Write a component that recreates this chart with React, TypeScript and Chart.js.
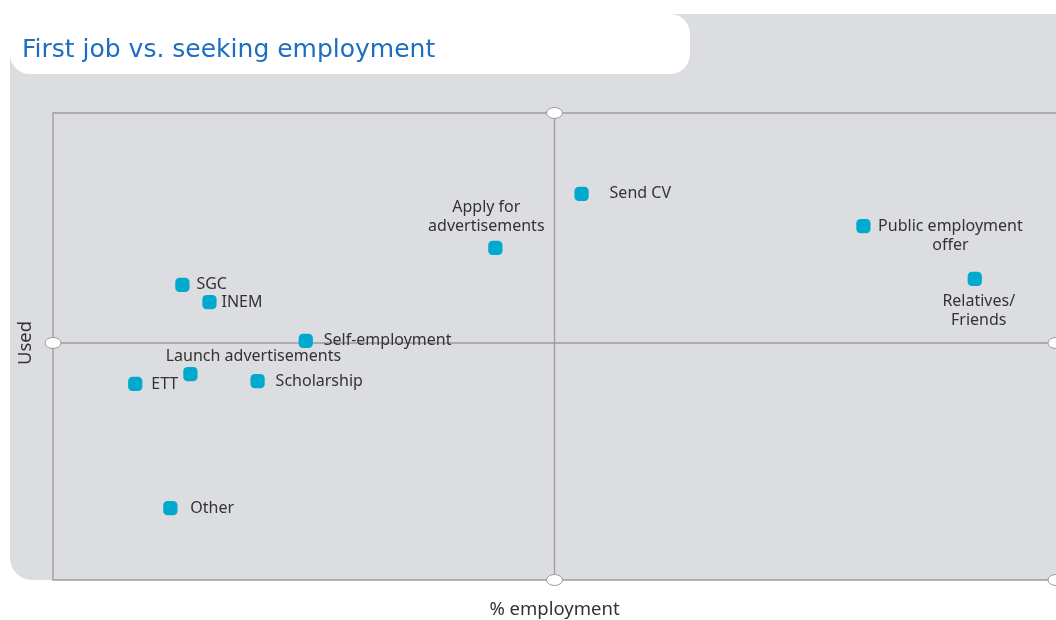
import React, { useEffect, useRef } from "react";
import { Chart, registerables } from "chart.js";

Chart.register(...registerables);

const TITLE = "First job vs. seeking employment";
const X_AXIS_LABEL = "% employment";
const Y_AXIS_LABEL = "Used";

const categories = [
  "Send CV",
  "Apply for\nadvertisements",
  "Public employment\noffer",
  "Relatives/\nFriends",
  "SGC",
  "INEM",
  "Self-employment",
  "Launch advertisements",
  "ETT",
  "Scholarship",
  "Other",
];
const employmentValues = [52.7, 44.1, 80.8, 91.9, 12.9, 15.6, 25.2, 13.7, 8.2, 20.4, 11.7];
const usedValues = [82.7, 71.1, 75.8, 64.5, 63.2, 59.5, 51.2, 44.1, 42.0, 42.6, 15.4];

const X_MIN = 0;
const X_MAX = 100;
const Y_MIN = 0;
const Y_MAX = 100;
const X_MID = 50;
const Y_MID = 50.75;

// label placement (pixels relative to the marker), kept apart from data
const labelPlacement: Record<string, { dx: number; dy: number; align: "left" | "center" }> = {
  "Send CV": { dx: 28, dy: 0, align: "left" },
  "Apply for\nadvertisements": { dx: -9, dy: -41, align: "center" },
  "Public employment\noffer": { dx: 87, dy: 0, align: "center" },
  "Relatives/\nFriends": { dx: 4, dy: 23, align: "center" },
  SGC: { dx: 14, dy: 0, align: "left" },
  INEM: { dx: 12, dy: 0, align: "left" },
  "Self-employment": { dx: 18, dy: 0, align: "left" },
  "Launch advertisements": { dx: 63, dy: -18, align: "center" },
  ETT: { dx: 16, dy: 1, align: "left" },
  Scholarship: { dx: 18, dy: 0, align: "left" },
  Other: { dx: 20, dy: 0, align: "left" },
};

const FONT = '"Noto Sans", sans-serif';

function roundRect(ctx: CanvasRenderingContext2D, x: number, y: number, w: number, h: number, r: number) {
  ctx.beginPath();
  ctx.moveTo(x + r, y);
  ctx.lineTo(x + w - r, y);
  ctx.arcTo(x + w, y, x + w, y + r, r);
  ctx.lineTo(x + w, y + h - r);
  ctx.arcTo(x + w, y + h, x + w - r, y + h, r);
  ctx.lineTo(x + r, y + h);
  ctx.arcTo(x, y + h, x, y + h - r, r);
  ctx.lineTo(x, y + r);
  ctx.arcTo(x, y, x + r, y, r);
  ctx.closePath();
}

function oval(ctx: CanvasRenderingContext2D, x: number, y: number) {
  ctx.save();
  ctx.beginPath();
  ctx.ellipse(x, y, 8, 5.5, 0, 0, Math.PI * 2);
  ctx.fillStyle = "#ffffff";
  ctx.fill();
  ctx.lineWidth = 1;
  ctx.strokeStyle = "#9a9a9a";
  ctx.stroke();
  ctx.restore();
}

const backgroundPlugin = {
  id: "quadBackground",
  beforeDraw(chart: any) {
    const ctx: CanvasRenderingContext2D = chart.ctx;
    const { left, top, right, bottom } = chart.chartArea;
    const xs = chart.scales.x;
    const ys = chart.scales.y;
    ctx.save();
    // grey panel
    ctx.fillStyle = "#dcdde0";
    roundRect(ctx, 10, 14, 1100, bottom - 14, 22);
    ctx.fill();
    // white title box
    ctx.fillStyle = "#ffffff";
    roundRect(ctx, 10, 14, 680, 60, 20);
    ctx.fill();
    // title
    ctx.fillStyle = "#1d6ec0";
    ctx.font = '25px "DejaVu Sans", sans-serif';
    ctx.textBaseline = "middle";
    ctx.textAlign = "left";
    ctx.fillText(TITLE, 22, 50);

    // frame and cross lines
    ctx.strokeStyle = "#9c9c9c";
    ctx.lineWidth = 1.3;
    ctx.beginPath();
    ctx.moveTo(right + 5, top);
    ctx.lineTo(left, top);
    ctx.lineTo(left, bottom);
    ctx.lineTo(right + 5, bottom);
    const cx = xs.getPixelForValue(X_MID);
    const cy = ys.getPixelForValue(Y_MID);
    ctx.moveTo(cx, top);
    ctx.lineTo(cx, bottom);
    ctx.moveTo(left, cy);
    ctx.lineTo(right + 5, cy);
    ctx.stroke();

    oval(ctx, cx, top);
    oval(ctx, cx, bottom);
    oval(ctx, left, cy);
    oval(ctx, right, cy);
    oval(ctx, right, bottom);

    // axis titles
    ctx.fillStyle = "#333333";
    ctx.font = `18.5px ${FONT}`;
    ctx.textAlign = "center";
    ctx.textBaseline = "middle";
    ctx.fillText(X_AXIS_LABEL, cx, 610);
    ctx.save();
    ctx.translate(26, cy);
    ctx.rotate(-Math.PI / 2);
    ctx.fillText(Y_AXIS_LABEL, 0, 0);
    ctx.restore();
    ctx.restore();
  },
};

const labelPlugin = {
  id: "pointLabels",
  afterDatasetsDraw(chart: any) {
    const ctx: CanvasRenderingContext2D = chart.ctx;
    const meta = chart.getDatasetMeta(0);
    ctx.save();
    ctx.font = `16px ${FONT}`;
    ctx.fillStyle = "#333333";
    ctx.textBaseline = "middle";
    meta.data.forEach((el: any, i: number) => {
      const name = categories[i];
      const p = labelPlacement[name] || { dx: 14, dy: 0, align: "left" };
      const lines = name.split("\n");
      ctx.textAlign = p.align;
      lines.forEach((ln, j) => {
        ctx.fillText(ln, el.x + p.dx, el.y + p.dy + j * 19);
      });
    });
    ctx.restore();
  },
};

export default function App() {
  const ref = useRef<HTMLCanvasElement | null>(null);
  useEffect(() => {
    document.body.style.margin = "0";
    if (!ref.current) return;
    const chart = new Chart(ref.current, {
      type: "scatter",
      data: {
        labels: categories,
        datasets: [
          {
            data: employmentValues.map((x, i) => ({ x, y: usedValues[i] })),
            backgroundColor: "#00a9ce",
            borderWidth: 0,
            pointStyle: "rectRounded",
            pointRadius: 8.3,
            pointHoverRadius: 8.3,
          },
        ],
      },
      options: {
        animation: false,
        responsive: false,
        maintainAspectRatio: false,
        layout: { autoPadding: false, padding: { left: 53, right: 0, top: 113, bottom: 40 } },
        plugins: { legend: { display: false }, tooltip: { enabled: false }, title: { display: false } },
        scales: {
          x: { type: "linear", min: X_MIN, max: X_MAX, display: false },
          y: { type: "linear", min: Y_MIN, max: Y_MAX, display: false },
        },
      },
      plugins: [backgroundPlugin, labelPlugin],
    });
    return () => chart.destroy();
  }, []);
  return (
    <div style={{ width: 1056, height: 620 }}>
      <canvas ref={ref} width={1056} height={620} style={{ display: "block" }} />
    </div>
  );
}
